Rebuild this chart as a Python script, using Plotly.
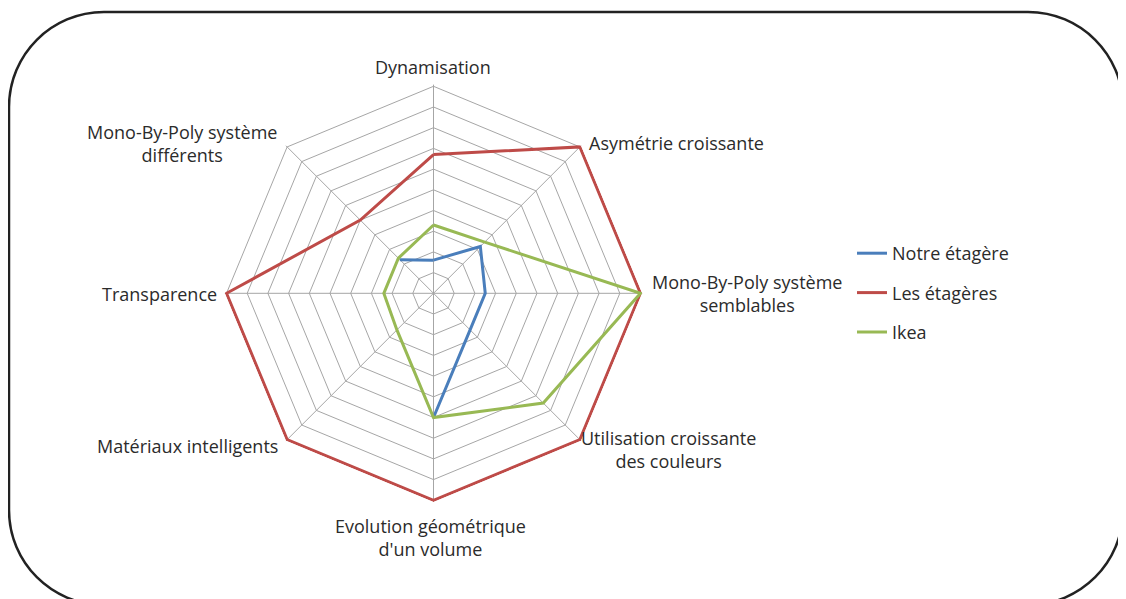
import plotly.graph_objects as go

categories = [
    "Dynamisation",
    "Asymétrie croissante",
    "Mono-By-Poly système<br>semblables",
    "Utilisation croissante<br>des couleurs",
    "Evolution géométrique<br>d'un volume",
    "Matériaux intelligents",
    "Transparence",
    "Mono-By-Poly système<br>différents",
]

notre_etagere = [1.6, 3.2, 2.5, 2.5, 6.0, None, None, 2.3]
les_etageres = [6.7, 10, 10, 10, 10, 10, 10, 5.0]
ikea = [3.3, 3.5, 10, 7.5, 6.0, 2.5, 2.4, 2.4]

series_names = ["Notre étagère", "Les étagères", "Ikea"]
series_values = [notre_etagere, les_etageres, ikea]
series_colors = ["#4A7EBB", "#BE4B48", "#98B954"]

# label placement (page pixels): x, y, xanchor
label_layout = [
    (433, 67, "center"),
    (587, 143, "left"),
    (650, 293, "left"),
    (579, 449, "left"),
    (430, 537, "center"),
    (280, 446, "right"),
    (219, 294, "right"),
    (279, 143, "right"),
]

FONT = "Open Sans"
TEXT = "#2B2B2B"
GRID = "#A6A6A6"
FS = 18
RMAX = 10
RPAD = 10.08  # small headroom so the outer 3px series line is not clipped

fig = go.Figure()
for i, (name, vals, col) in enumerate(zip(series_names, series_values, series_colors)):
    fig.add_trace(go.Scatterpolar(
        r=vals + [vals[0]],
        theta=categories + [categories[0]],
        mode="lines",
        name=name,
        legendgroup=f"g{i}",
        connectgaps=False,
        cliponaxis=False,
        line=dict(color=col, width=3),
    ))

W, H = 1126, 599
OFF = 8  # page body margin offset


def fx(x):
    return (x - OFF) / W


def fy(y):
    return 1 - (y - OFF) / H


cx, cy = 433.5, 293.3
rad = 207 * RPAD / RMAX
dom_x = [fx(cx - rad), fx(cx + rad)]
dom_y = [fy(cy + rad), fy(cy - rad)]


def P(x, y):
    return f"{fx(x):.5f},{fy(y):.5f}"


L, T, R, B = 9, 12, 1123, 605
r = 95
k = 0.5523 * r
border = (
    f"M {P(L + r, T)} L {P(R - r, T)} "
    f"C {P(R - r + k, T)} {P(R, T + r - k)} {P(R, T + r)} "
    f"L {P(R, B - r)} "
    f"C {P(R, B - r + k)} {P(R - r + k, B)} {P(R - r, B)} "
    f"L {P(L + r, B)} "
    f"C {P(L + r - k, B)} {P(L, B - r + k)} {P(L, B - r)} "
    f"L {P(L, T + r)} "
    f"C {P(L, T + r - k)} {P(L + r - k, T)} {P(L + r, T)} Z"
)

annotations = []
for text, (lx, ly, anchor) in zip(categories, label_layout):
    annotations.append(dict(
        text=text,
        x=fx(lx),
        y=fy(ly),
        xref="paper",
        yref="paper",
        xanchor=anchor,
        yanchor="middle",
        align="center",
        showarrow=False,
        font=dict(family=FONT, size=FS, color=TEXT),
    ))

fig.update_layout(
    width=W,
    height=H,
    margin=dict(l=0, r=0, t=0, b=0),
    paper_bgcolor="white",
    font=dict(family=FONT, size=FS, color=TEXT),
    polar=dict(
        domain=dict(x=dom_x, y=dom_y),
        gridshape="linear",
        bgcolor="white",
        radialaxis=dict(
            range=[0, RPAD],
            tickmode="linear",
            tick0=0,
            dtick=1,
            showticklabels=False,
            ticks="",
            showline=False,
            gridcolor=GRID,
            gridwidth=1,
            layer="below traces",
        ),
        angularaxis=dict(
            direction="clockwise",
            rotation=90,
            gridcolor=GRID,
            showline=False,
            ticks="",
            showticklabels=False,
            layer="below traces",
        ),
    ),
    legend=dict(
        x=fx(852),
        y=fy(293),
        xanchor="left",
        yanchor="middle",
        tracegroupgap=13,
        font=dict(family=FONT, size=FS, color=TEXT),
        bgcolor="rgba(0,0,0,0)",
    ),
    annotations=annotations,
    shapes=[dict(
        type="path",
        xref="paper",
        yref="paper",
        path=border,
        line=dict(color="#222222", width=2.5),
        fillcolor="rgba(0,0,0,0)",
        layer="below",
    )],
)

fig.write_html("out.html")
